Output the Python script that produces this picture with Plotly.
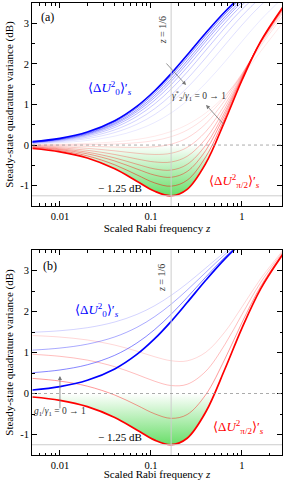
import math
import plotly.graph_objects as go

# Scaled Rabi frequency z (sample points)
z = [0.005, 0.01, 0.02, 0.04, 0.07, 0.11, 0.1667, 0.25, 0.4, 0.65, 1.0, 1.6, 2.8]

# Panel (a): gamma2*/gamma1 = 0 -> 1   (dB)
a_U0 = [
    [0.085, 0.167, 0.322, 0.600, 0.954, 1.338, 1.761, 2.219, 2.762, 3.285, 3.680, 4.021, 4.309],
    [0.080, 0.158, 0.305, 0.570, 0.911, 1.283, 1.698, 2.151, 2.696, 3.226, 3.631, 3.984, 4.284],
    [0.076, 0.149, 0.287, 0.539, 0.865, 1.225, 1.630, 2.078, 2.622, 3.160, 3.576, 3.941, 4.256],
    [0.071, 0.140, 0.272, 0.512, 0.824, 1.172, 1.568, 2.009, 2.553, 3.096, 3.522, 3.900, 4.228],
    [0.066, 0.130, 0.252, 0.476, 0.772, 1.104, 1.487, 1.919, 2.460, 3.010, 3.448, 3.842, 4.188],
    [0.059, 0.117, 0.227, 0.432, 0.705, 1.016, 1.379, 1.798, 2.333, 2.890, 3.343, 3.759, 4.131],
    [0.051, 0.100, 0.195, 0.374, 0.615, 0.896, 1.232, 1.627, 2.148, 2.711, 3.183, 3.629, 4.039],
    [0.041, 0.081, 0.159, 0.308, 0.512, 0.754, 1.052, 1.413, 1.908, 2.467, 2.957, 3.439, 3.900],
    [0.029, 0.057, 0.113, 0.220, 0.371, 0.556, 0.792, 1.092, 1.526, 2.054, 2.553, 3.080, 3.622],
]
a_Upi2 = [
    [-0.085, -0.167, -0.320, -0.586, -0.890, -1.138, -1.249, -1.091, -0.452, 0.597, 1.597, 2.548, 3.390],
    [-0.071, -0.139, -0.266, -0.486, -0.734, -0.933, -1.013, -0.866, -0.291, 0.675, 1.622, 2.546, 3.378],
    [-0.058, -0.113, -0.216, -0.392, -0.589, -0.741, -0.794, -0.651, -0.133, 0.753, 1.648, 2.542, 3.364],
    [-0.047, -0.092, -0.175, -0.317, -0.472, -0.588, -0.616, -0.476, 0.000, 0.821, 1.670, 2.537, 3.350],
    [-0.035, -0.068, -0.130, -0.232, -0.342, -0.416, -0.417, -0.277, 0.155, 0.902, 1.695, 2.529, 3.330],
    [-0.022, -0.043, -0.081, -0.142, -0.202, -0.232, -0.202, -0.058, 0.330, 0.996, 1.724, 2.515, 3.300],
    [-0.009, -0.017, -0.030, -0.049, -0.058, -0.042, 0.023, 0.176, 0.523, 1.102, 1.751, 2.487, 3.251],
    [0.002, 0.005, 0.011, 0.026, 0.058, 0.112, 0.207, 0.369, 0.686, 1.189, 1.760, 2.435, 3.174],
    [0.010, 0.019, 0.039, 0.078, 0.138, 0.219, 0.334, 0.502, 0.790, 1.217, 1.703, 2.303, 3.009],
]

# Panel (b): g1/gamma1 = 0 -> 1   (dB)
b_U0 = [
    [0.085, 0.167, 0.322, 0.600, 0.954, 1.338, 1.761, 2.219, 2.762, 3.285, 3.680, 4.021, 4.309],
    [0.507, 0.574, 0.701, 0.932, 1.231, 1.561, 1.933, 2.342, 2.839, 3.327, 3.703, 4.031, 4.313],
    [1.058, 1.108, 1.204, 1.380, 1.613, 1.876, 2.179, 2.523, 2.954, 3.392, 3.739, 4.049, 4.320],
    [1.493, 1.531, 1.605, 1.744, 1.929, 2.142, 2.394, 2.685, 3.061, 3.454, 3.774, 4.066, 4.326],
]
b_Upi2 = [
    [-0.085, -0.167, -0.320, -0.586, -0.890, -1.138, -1.249, -1.091, -0.452, 0.597, 1.597, 2.548, 3.390],
    [0.369, 0.303, 0.179, -0.037, -0.286, -0.496, -0.606, -0.513, -0.029, 0.843, 1.729, 2.609, 3.412],
    [0.956, 0.907, 0.815, 0.654, 0.465, 0.299, 0.194, 0.225, 0.542, 1.197, 1.928, 2.704, 3.448],
    [1.414, 1.377, 1.306, 1.181, 1.033, 0.896, 0.799, 0.796, 1.005, 1.505, 2.111, 2.795, 3.484],
]

z_cross = 0.5          # zero crossing of the thick pi/2 curve
z_opt = 1 / 6          # optimum Rabi frequency
limit_db = -1.25       # maximum squeezing
x_ticks = [0.01, 0.1, 1]
x_ticktext = ["0.01", "0.1", "1"]
y_ticks = [-1, 0, 1, 2, 3]
y_ticktext = ["-1", "0", "1", "2", "3"]

a_alpha = [1, 0.6, 0.5, 0.42, 0.35, 0.28, 0.22, 0.16, 0.11]
b_alpha_blue = [1, 0.6, 0.42, 0.22]
b_alpha_red = [1, 0.5, 0.33, 0.2]

FONT = "Liberation Serif"
fig = go.Figure()


def add_panel(U0, Upi2, alpha_b, alpha_r, xa, ya):
    fx = z[:9] + [z_cross]
    fy = Upi2[0][:9] + [0.0]
    fig.add_trace(go.Scatter(
        x=fx, y=fy, mode="lines", line=dict(width=0, shape="spline"),
        fill="tozeroy",
        fillgradient=dict(type="vertical", start=limit_db, stop=0,
                          colorscale=[[0, "rgb(105,222,105)"], [1, "rgb(255,255,255)"]]),
        xaxis=xa, yaxis=ya, hoverinfo="skip"))
    n = len(U0)
    for i in range(n - 1, -1, -1):
        w = 1.7 if i == 0 else 0.8
        fig.add_trace(go.Scatter(x=z, y=Upi2[i], mode="lines",
                                 line=dict(color=f"rgba(255,0,0,{alpha_r[i]})", width=w, shape="spline"),
                                 xaxis=xa, yaxis=ya))
        fig.add_trace(go.Scatter(x=z, y=U0[i], mode="lines",
                                 line=dict(color=f"rgba(0,0,255,{alpha_b[i]})", width=w, shape="spline"),
                                 xaxis=xa, yaxis=ya))


add_panel(a_U0, a_Upi2, a_alpha, a_alpha, "x", "y")
add_panel(b_U0, b_Upi2, b_alpha_blue, b_alpha_red, "x2", "y2")

minor_x = [m * 10 ** e for e in (-3, -2, -1, 0) for m in range(2, 10)]

xcommon = dict(type="log", range=[-2.307, 0.44], tickvals=x_ticks, ticktext=x_ticktext,
               ticks="inside", ticklen=5, tickcolor="black", showline=True, linecolor="black",
               linewidth=1, mirror="ticks", showgrid=False, zeroline=False, automargin=False,
               tickfont=dict(size=10.5),
               minor=dict(ticks="inside", ticklen=2.5, tickvals=minor_x, tickcolor="black", showgrid=False),
               title=dict(text="Scaled Rabi frequency <i>z</i>", font=dict(size=11), standoff=2))
ycommon = dict(range=[-1.5, 3.5], tickvals=y_ticks, ticktext=y_ticktext, ticks="inside",
               ticklen=5, tickcolor="black", showline=True, linecolor="black", linewidth=1,
               mirror="ticks", showgrid=False, zeroline=False, automargin=False, tickfont=dict(size=10.5),
               minor=dict(ticks="inside", ticklen=2.5, dtick=0.5, tickcolor="black", showgrid=False),
               title=dict(text="Steady-state quadrature variance (dB)", font=dict(size=11), standoff=4))

fig.update_layout(
    template="none",
    width=286, height=480, margin=dict(l=32, r=4, t=3, b=25, autoexpand=False),
    paper_bgcolor="white", plot_bgcolor="white", showlegend=False,
    font=dict(family=FONT, size=11, color="black"),
    xaxis=dict(xcommon, anchor="y"), yaxis=dict(ycommon, domain=[0.551, 1], anchor="x"),
    xaxis2=dict(xcommon, anchor="y2"), yaxis2=dict(ycommon, domain=[0, 0.4535], anchor="x2"),
)

shapes = []
for xr, yr in (("x", "y"), ("x2", "y2")):
    dom = "y domain" if yr == "y" else "y2 domain"
    xdom = "x domain" if xr == "x" else "x2 domain"
    shapes.append(dict(type="line", xref=xr, yref=dom, x0=z_opt, x1=z_opt, y0=0, y1=1,
                       line=dict(color="rgb(205,205,205)", width=1), layer="above"))
    shapes.append(dict(type="line", xref=xdom, yref=yr, x0=0, x1=1, y0=limit_db, y1=limit_db,
                       line=dict(color="rgb(205,205,205)", width=1), layer="above"))
    shapes.append(dict(type="line", xref=xdom, yref=yr, x0=0, x1=1, y0=0, y1=0,
                       line=dict(color="rgb(150,150,150)", width=0.8, dash="dot"), layer="above"))
fig.update_layout(shapes=shapes)

L = math.log10
U0_lbl = "⟨Δ<i>U</i><sup>2</sup><sub>0</sub>⟩′<sub><i>s</i></sub>"
Upi_lbl = "⟨Δ<i>U</i><sup>2</sup><sub>π/2</sub>⟩′<sub><i>s</i></sub>"
ann = [
    dict(xref="x", yref="y", x=L(0.00721), y=3.155, text="(a)", showarrow=False, font=dict(size=12)),
    dict(xref="x", yref="y", x=L(0.0355), y=1.41, text=U0_lbl, showarrow=False, font=dict(size=13, color="blue")),
    dict(xref="x", yref="y", x=L(0.818), y=-0.88, text=Upi_lbl, showarrow=False, font=dict(size=13, color="red")),
    dict(xref="x", yref="y", x=L(z_opt), y=2.83, xshift=-9, text="<i>z</i> = 1/6", textangle=-90,
         showarrow=False, font=dict(size=10, color="#333")),
    dict(xref="x", yref="y", x=L(0.337), y=1.21, text="<i>γ</i><sup>*</sup><sub>2</sub>/<i>γ</i><sub>1</sub> = 0 → 1",
         showarrow=False, font=dict(size=9.5, color="#333")),
    dict(xref="x", yref="y", x=L(0.0457), y=limit_db, yanchor="bottom", text="− 1.25 dB",
         showarrow=False, font=dict(size=11)),
    dict(xref="x", yref="y", x=L(0.243), y=1.48, ax=-21, ay=-23, text="", showarrow=True,
         arrowhead=2, arrowsize=1, arrowwidth=0.8, arrowcolor="#777"),
    dict(xref="x", yref="y", x=L(0.403), y=0.99, ax=19, ay=21, text="", showarrow=True,
         arrowhead=2, arrowsize=1, arrowwidth=0.8, arrowcolor="#777"),
    dict(xref="x2", yref="y2", x=L(0.00778), y=3.11, text="(b)", showarrow=False, font=dict(size=12)),
    dict(xref="x2", yref="y2", x=L(0.0255), y=2.04, text=U0_lbl, showarrow=False, font=dict(size=13, color="blue")),
    dict(xref="x2", yref="y2", x=L(0.906), y=-0.82, text=Upi_lbl, showarrow=False, font=dict(size=13, color="red")),
    dict(xref="x2", yref="y2", x=L(z_opt), y=2.82, xshift=-9, text="<i>z</i> = 1/6", textangle=-90,
         showarrow=False, font=dict(size=10, color="#333")),
    dict(xref="x2", yref="y2", x=L(0.0101), y=-0.45, text="<i>g</i><sub>1</sub>/<i>γ</i><sub>1</sub> = 0 → 1",
         showarrow=False, font=dict(size=9.5, color="#333")),
    dict(xref="x2", yref="y2", x=L(0.0457), y=limit_db, yanchor="bottom", text="− 1.25 dB",
         showarrow=False, font=dict(size=11)),
    dict(xref="x2", yref="y2", x=L(0.01), y=0.43, ax=0, ay=34, text="", showarrow=True,
         arrowhead=2, arrowsize=1, arrowwidth=0.8, arrowcolor="#777"),
]
fig.update_layout(annotations=ann)

fig.write_html("out.html", config={"displayModeBar": False},
               post_script="document.body.style.margin='0px';document.body.style.padding='0px';")
